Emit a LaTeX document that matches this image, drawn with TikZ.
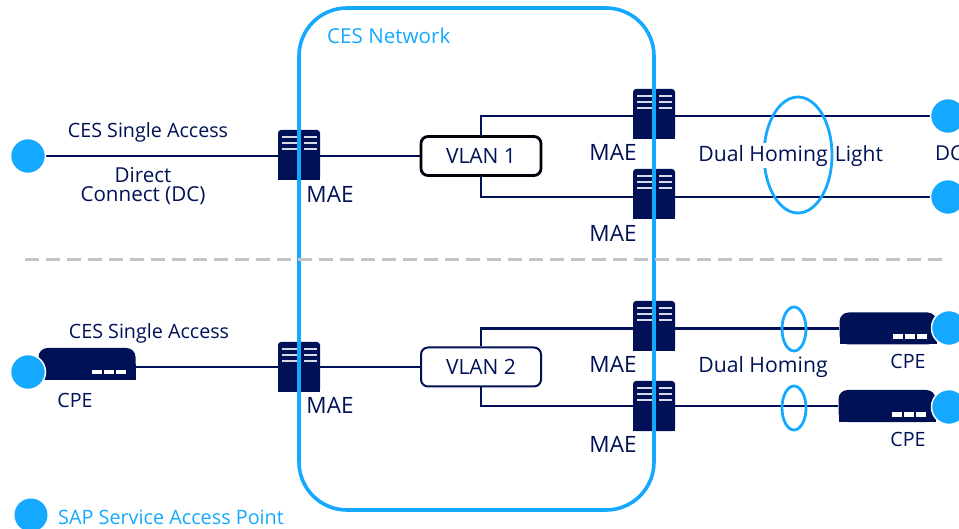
\documentclass[tikz,border=0pt]{standalone}
\usepackage{fontspec}
\setmainfont{Open Sans}
\usetikzlibrary{backgrounds,shapes.geometric}
\definecolor{navy}{HTML}{001156}
\definecolor{sky}{HTML}{14A9FF}
\definecolor{dashgrey}{HTML}{C4C4C4}
\newcommand{\fs}[1]{\fontsize{#1}{#1}\selectfont}
\tikzset{
  x=1pt,y=-1pt,
  lbl/.style={text=navy,font=\fs{20.6},inner sep=0pt},
  maelbl/.style={text=navy,font=\fs{22.5},inner sep=0pt},
  skylbl/.style={text=sky,font=\fs{20.6},inner sep=0pt},
  link/.style={draw=navy,line width=2.7pt},
  sapdot/.style={circle,fill=sky,draw=white,line width=1.5pt,minimum size=35pt,inner sep=0pt},
  srv/.style={fill=navy,rounded corners=3pt,minimum width=42pt,minimum height=50pt,inner sep=0pt},
  cpebody/.style={fill=navy,rounded corners=9pt,minimum width=97pt,minimum height=32pt,inner sep=0pt},
  vlanbox/.style={draw=#1,fill=white,rounded corners=7pt,minimum width=120pt,minimum height=39pt,inner sep=0pt,text=navy,font=\fs{21}},
  ring/.style={draw=sky,line width=2.8pt},
}
\newcommand{\mkserver}[3]{%
  \node[srv] (#1) at (#2,#3) {};
  \fill[navy] (#2-21,#3-5) rectangle (#2+21,#3+25);
  \foreach \dy in {-18,-12,-6}{
    \fill[white!85!navy] (#2-17,#3+\dy-1) rectangle (#2-2,#3+\dy+1);
    \fill[white!85!navy] (#2+5,#3+\dy-1) rectangle (#2+18,#3+\dy+1);
  }%
}
\newcommand{\mkcpe}[3]{%
  \node[cpebody] (#1) at (#2,#3) {};
  \fill[navy] (#2-48.5,#3) rectangle (#2+48.5,#3+16);
  \fill[white] (#2+5,#3+6) rectangle (#2+15,#3+10.5);
  \fill[white] (#2+17,#3+6) rectangle (#2+27,#3+10.5);
  \fill[white] (#2+29,#3+6) rectangle (#2+39,#3+10.5);
}
\begin{document}
\begin{tikzpicture}
\useasboundingbox (0,0) rectangle (959,529);
% devices
\mkserver{maeA}{299}{155}
\mkserver{maeB}{654}{114}
\mkserver{maeC}{654}{194}
\mkserver{maeD}{299}{367}
\mkserver{maeE}{654}{326}
\mkserver{maeF}{654}{406}
\mkcpe{cpeL}{87}{364}
\mkcpe{cpeR}{888}{328.5}
\mkcpe{cpeS}{887}{406}
% VLAN
\node[vlanbox=black!90!navy,line width=2.8pt] (vlanA) at (481,156) {VLAN 1};
\node[vlanbox=navy,line width=2pt] (vlanB) at (481,367) {VLAN 2};
% SAP points
\node[sapdot] (sapA) at (28,156) {};
\node[sapdot] (sapB) at (28,372) {};
\node[sapdot] (sapC) at (948,116) {};
\node[sapdot] (sapD) at (948,197) {};
\node[sapdot] (sapE) at (949,328) {};
\node[sapdot] (sapF) at (949,407) {};
\node[sapdot,draw=none,minimum size=33pt] (sapG) at (31,515) {};
% connectors
\begin{scope}[on background layer]
  \draw[link] (sapA) -- (vlanA);
  \draw[link] (vlanA) |- (sapC);
  \draw[link] (vlanA) |- (sapD);
  \draw[link] (cpeL.east |- vlanB) -- (vlanB);
  \draw[link] (vlanB) |- (cpeR);
  \draw[link] (vlanB) |- (cpeS);
\end{scope}
% network boundary
\node[draw=sky,line width=3.6pt,rounded corners=48pt,minimum width=355pt,minimum height=502pt,inner sep=0pt] (net) at (476.5,259) {};
\node[skylbl,anchor=west] (netlabel) at (327,36) {CES Network};
% separator
\coordinate (sepL) at (25,259.5);
\coordinate (sepR) at (949,259.5);
\draw[dashgrey,line width=2.4pt,dash pattern=on 14pt off 7pt] (sepL) -- (sepR);
% homing rings
\node[ellipse,ring,minimum width=68pt,minimum height=116pt,inner sep=0pt] (ringA) at (798,155) {};
\node[ellipse,ring,minimum width=24pt,minimum height=44pt,inner sep=0pt] (ringB) at (794,329) {};
\node[ellipse,ring,minimum width=24pt,minimum height=44pt,inner sep=0pt] (ringC) at (794,408) {};
% labels
\node[lbl,font=\fs{19.7}] (lA) at (148,132) {CES Single Access};
\node[lbl] (lB) at (143,175) {Direct};
\node[lbl] (lC) at (143,196) {Connect (DC)};
\node[maelbl] (lD) at (330,194) {MAE};
\node[maelbl] (lE) at (613,152) {MAE};
\node[maelbl] (lF) at (613,233) {MAE};
\node[lbl,fill=white,inner xsep=1pt,inner ysep=2pt,font=\fs{21.2}] (lG) at (763,155.5) {Dual Homing};
\node[lbl,font=\fs{21}] (lH) at (859,156) {Light};
\node[lbl,anchor=west] (lI) at (935,153) {DC};
\node[lbl,font=\fs{19.7}] (lJ) at (149,333) {CES Single Access};
\node[lbl,font=\fs{19.7}] (lK) at (75,400) {CPE};
\node[maelbl] (lL) at (330,405) {MAE};
\node[maelbl] (lM) at (613,364) {MAE};
\node[maelbl] (lN) at (613,444) {MAE};
\node[lbl,font=\fs{21.2}] (lO) at (763,367) {Dual Homing};
\node[lbl,font=\fs{19.7}] (lP) at (908,361) {CPE};
\node[lbl,font=\fs{19.7}] (lQ) at (908,439) {CPE};
\node[skylbl,anchor=west,font=\fs{19.8}] (lR) at (58,517) {SAP Service Access Point};
\end{tikzpicture}
\end{document}
